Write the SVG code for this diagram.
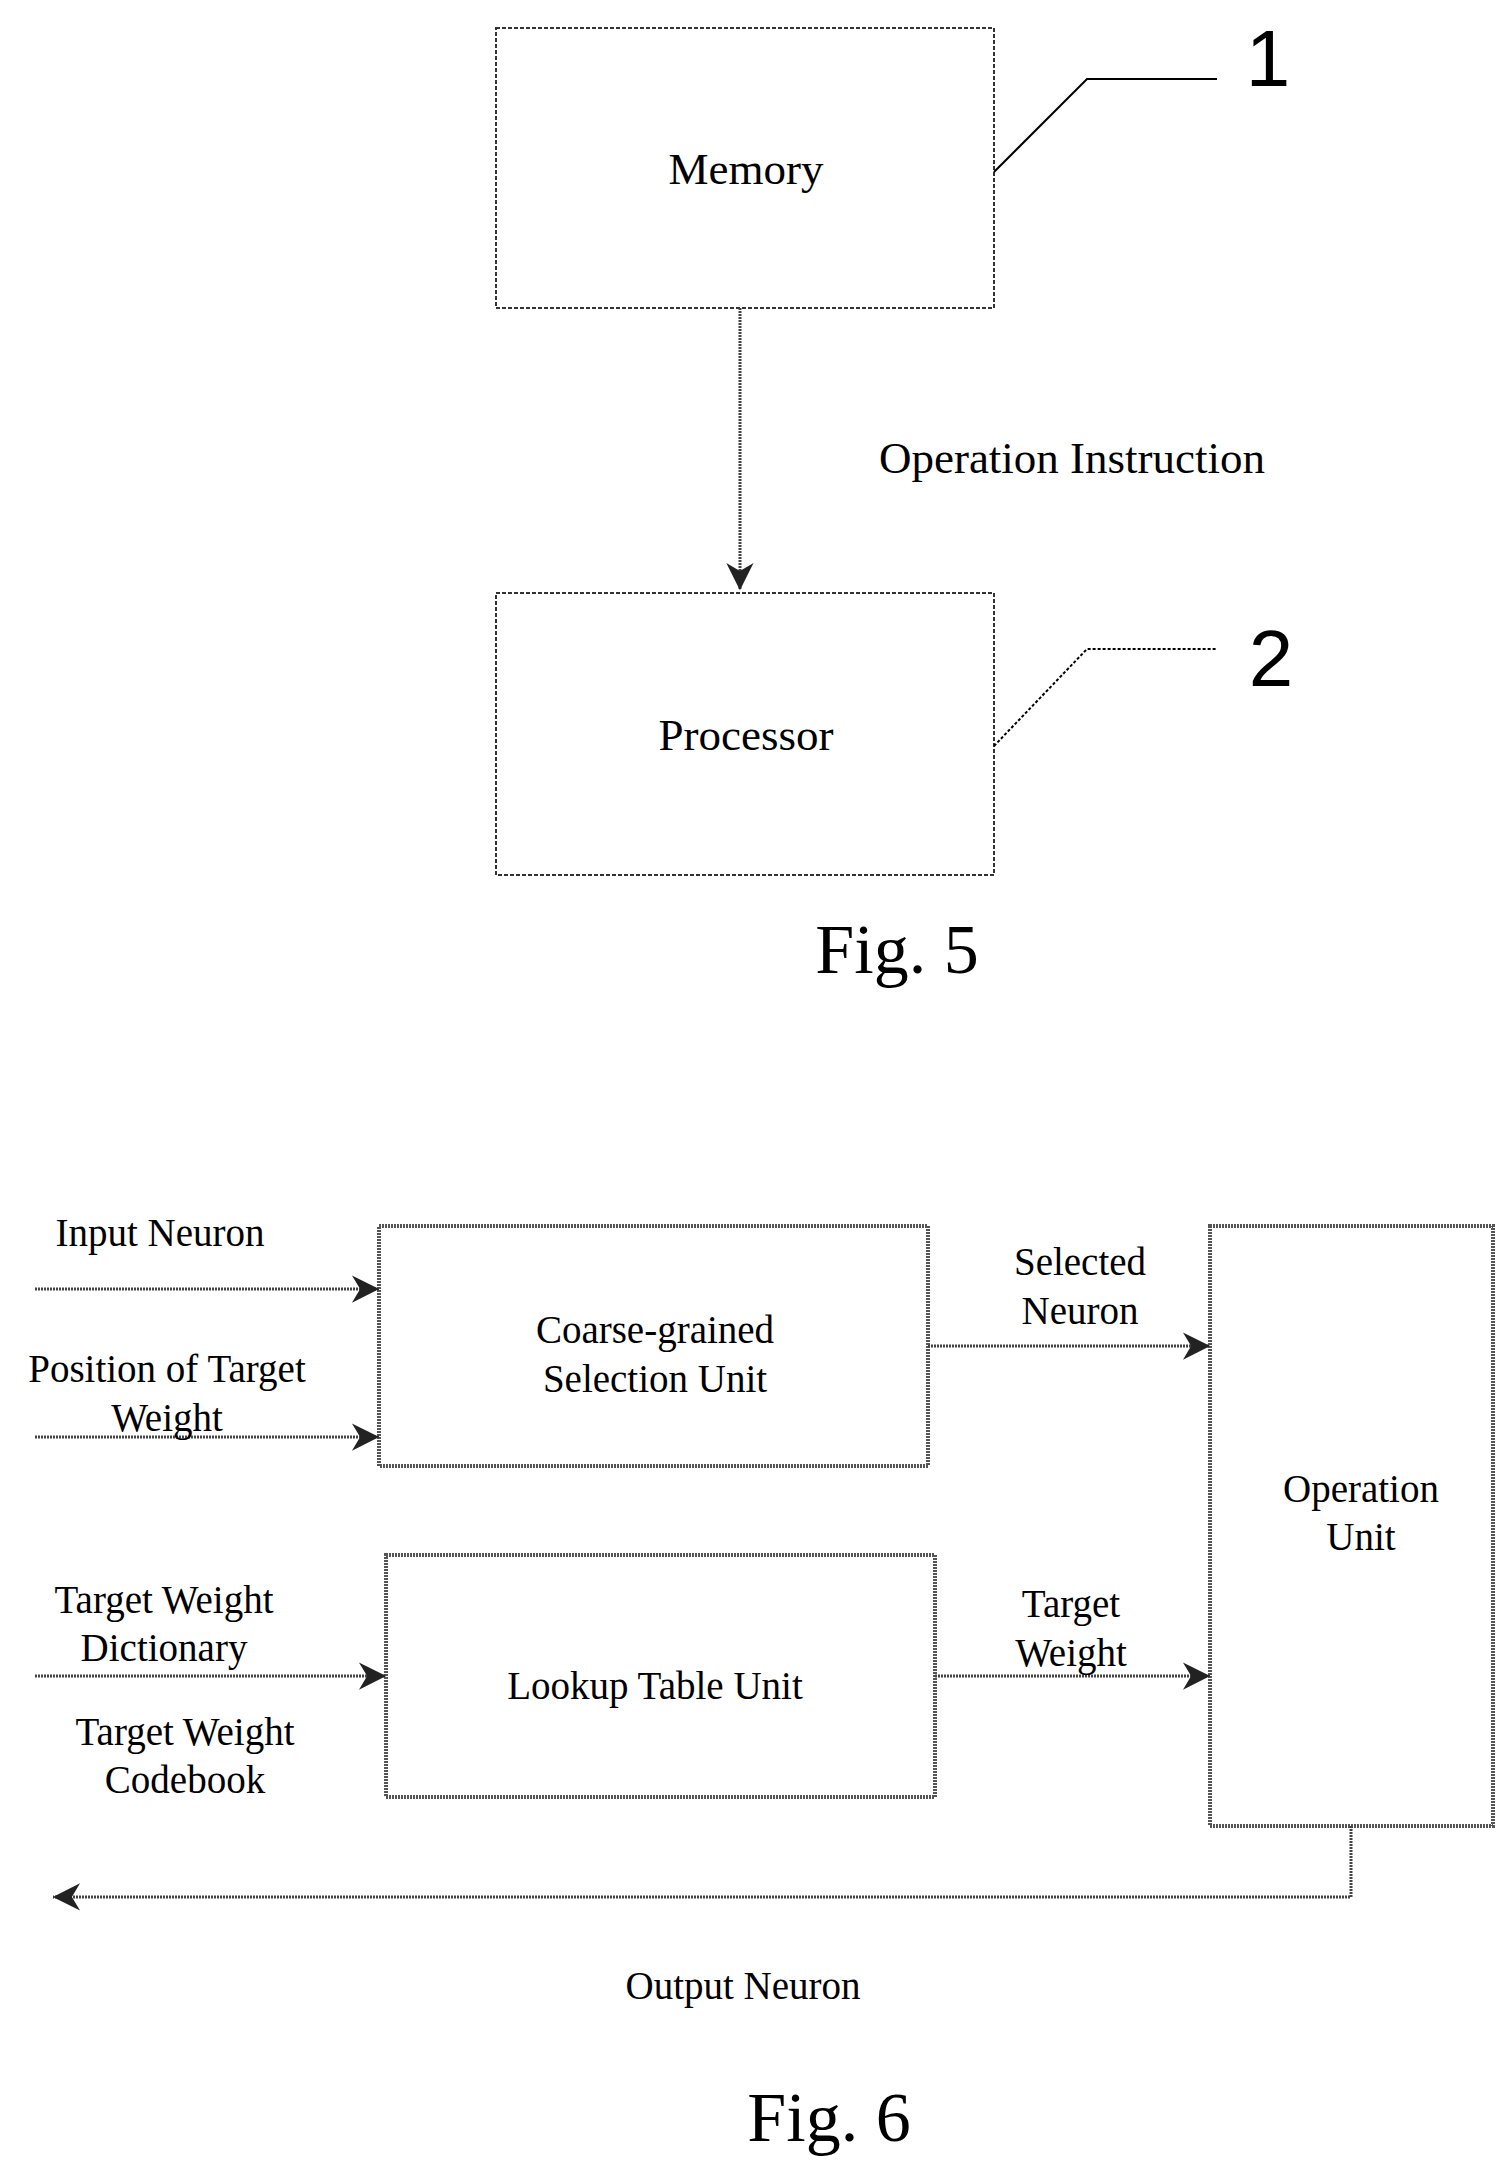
<svg xmlns="http://www.w3.org/2000/svg" width="1504" height="2161" viewBox="0 0 1504 2161">
<style>
text{font-family:"Liberation Serif",serif;fill:#000;text-anchor:middle}
.t{font-size:45px}.s{font-size:39px}.f{font-size:70px}
.n{font-family:"Liberation Sans",sans-serif;font-size:80px}
.box{fill:none;stroke:#333;stroke-width:2;stroke-dasharray:4 2}
.box2{fill:none;stroke:#555;stroke-width:4;stroke-dasharray:2 1}
.c{fill:none;stroke:#444;stroke-width:3;stroke-dasharray:2 1}
.l{fill:none;stroke:#000;stroke-width:2}
</style>
<defs><marker id="a" viewBox="0 0 10 10" refX="10" refY="5" markerWidth="8" markerHeight="8" orient="auto-start-reverse" markerUnits="userSpaceOnUse" style="overflow:visible"><path d="M0,0L10,5L0,10L3,5z" fill="#222" transform="scale(3.4) translate(-7,-3.5)"/></marker></defs>
<rect width="1504" height="2161" fill="#fff"/>
<g id="memory"><rect class="box" x="496" y="28" width="498" height="280"/><text class="t" x="746" y="184">Memory</text></g>
<g id="processor"><rect class="box" x="496" y="593" width="498" height="282"/><text class="t" x="746" y="750">Processor</text></g>
<g id="label1"><path class="l" d="M994,172L1087,79L1217,79"/><text class="n" x="1268" y="86">1</text></g>
<g id="label2"><path class="l" d="M994,746L1087,649L1217,649" stroke-dasharray="3 2"/><text class="n" x="1271" y="686">2</text></g>
<text class="f" x="897" y="973">Fig. 5</text>
<g id="coarse"><rect class="box2" x="379" y="1226" width="549" height="240"/><text class="s" x="655" y="1343">Coarse-grained</text><text class="s" x="655" y="1392">Selection Unit</text></g>
<g id="lookup"><rect class="box2" x="386" y="1555" width="549" height="242"/><text class="s" x="655" y="1699">Lookup Table Unit</text></g>
<g id="operation"><rect class="box2" x="1210" y="1226" width="283" height="600"/><text class="s" x="1361" y="1502">Operation</text><text class="s" x="1361" y="1550">Unit</text></g>
<g id="connectors">
<path class="c" d="M740,308V590" marker-end="url(#a)"/>
<path class="c" d="M35,1289H379" marker-end="url(#a)"/>
<path class="c" d="M35,1437H379" marker-end="url(#a)"/>
<path class="c" d="M35,1676H386" marker-end="url(#a)"/>
<path class="c" d="M928,1346H1210" marker-end="url(#a)"/>
<path class="c" d="M935,1676H1210" marker-end="url(#a)"/>
<path class="c" d="M1351,1826V1897H53" marker-end="url(#a)"/>
</g>
<text class="t" x="1072" y="473">Operation Instruction</text>
<text class="s" x="160" y="1246">Input Neuron</text>
<text class="s" x="167" y="1382">Position of Target</text>
<text class="s" x="167" y="1431">Weight</text>
<text class="s" x="164" y="1613">Target Weight</text>
<text class="s" x="164" y="1661">Dictionary</text>
<text class="s" x="185" y="1745">Target Weight</text>
<text class="s" x="185" y="1793">Codebook</text>
<text class="s" x="1080" y="1275">Selected</text>
<text class="s" x="1080" y="1324">Neuron</text>
<text class="s" x="1071" y="1617">Target</text>
<text class="s" x="1071" y="1666">Weight</text>
<text class="s" x="743" y="1999">Output Neuron</text>
<text class="f" x="829" y="2141">Fig. 6</text>
</svg>
